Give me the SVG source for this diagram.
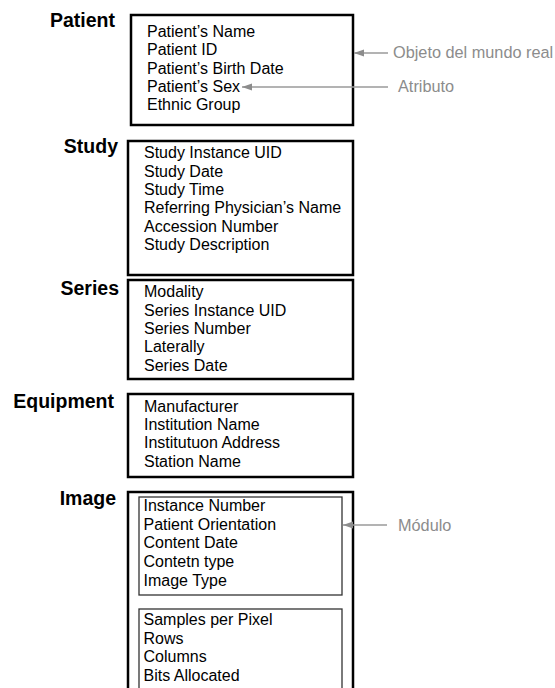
<svg xmlns="http://www.w3.org/2000/svg" width="555" height="688" viewBox="0 0 555 688">
<defs>
<style>
.lbl{font-family:"Liberation Sans",Arial,sans-serif;font-weight:bold;font-size:19.5px;fill:#000;text-anchor:end}
.it{font-family:"Liberation Sans",Arial,sans-serif;font-size:16px;fill:#000}
.note{font-family:"Liberation Sans",Arial,sans-serif;font-size:16.3px;fill:#8c8c8c}
.box{fill:#fff;stroke:#000;stroke-width:2.5}
.inner{fill:#fff;stroke:#333;stroke-width:1.3}
.conn{stroke:#9a9a9a;stroke-width:1.5;fill:none;marker-end:url(#ah)}
</style>
<marker id="ah" markerUnits="userSpaceOnUse" markerWidth="11" markerHeight="8" refX="10" refY="3.5" orient="auto">
<path d="M0,0 L10,3.5 L0,7 z" fill="#8c8c8c"/>
</marker>
</defs>
<rect width="555" height="688" fill="#fff"/>
<g id="patient">
<text class="lbl" x="115" y="27">Patient</text>
<rect class="box" x="131" y="15" width="222" height="110"/>
<text class="it" x="147" y="37">Patient’s Name</text>
<text class="it" x="147" y="55.3">Patient ID</text>
<text class="it" x="147" y="73.6">Patient’s Birth Date</text>
<text class="it" x="147" y="92">Patient’s Sex</text>
<text class="it" x="147" y="110.3">Ethnic Group</text>
</g>
<g id="study">
<text class="lbl" x="118" y="153">Study</text>
<rect class="box" x="128" y="141" width="225" height="134"/>
<text class="it" x="144" y="158.3">Study Instance UID</text>
<text class="it" x="144" y="176.7">Study Date</text>
<text class="it" x="144" y="195">Study Time</text>
<text class="it" x="144" y="213.3">Referring Physician’s Name</text>
<text class="it" x="144" y="231.7">Accession Number</text>
<text class="it" x="144" y="250">Study Description</text>
</g>
<g id="series">
<text class="lbl" x="119" y="295">Series</text>
<rect class="box" x="128" y="280" width="225" height="99"/>
<text class="it" x="144" y="297.3">Modality</text>
<text class="it" x="144" y="315.7">Series Instance UID</text>
<text class="it" x="144" y="334">Series Number</text>
<text class="it" x="144" y="352.3">Laterally</text>
<text class="it" x="144" y="370.7">Series Date</text>
</g>
<g id="equipment">
<text class="lbl" x="114" y="408">Equipment</text>
<rect class="box" x="128" y="394" width="225" height="83"/>
<text class="it" x="144" y="411.7">Manufacturer</text>
<text class="it" x="144" y="430">Institution Name</text>
<text class="it" x="144" y="448.3">Institutuon Address</text>
<text class="it" x="144" y="466.7">Station Name</text>
</g>
<g id="image">
<text class="lbl" x="116" y="505">Image</text>
<rect class="box" x="128" y="492" width="225" height="210"/>
<rect class="inner" x="139" y="497" width="203" height="98"/>
<text class="it" x="143.5" y="511">Instance Number</text>
<text class="it" x="143.5" y="529.7">Patient Orientation</text>
<text class="it" x="143.5" y="548.4">Content Date</text>
<text class="it" x="143.5" y="567.1">Contetn type</text>
<text class="it" x="143.5" y="585.8">Image Type</text>
<rect class="inner" x="139" y="609" width="203" height="90"/>
<text class="it" x="143.5" y="625">Samples per Pixel</text>
<text class="it" x="143.5" y="643.7">Rows</text>
<text class="it" x="143.5" y="662.4">Columns</text>
<text class="it" x="143.5" y="681.1">Bits Allocated</text>
</g>
<g id="notes">
<text class="note" x="393" y="58">Objeto del mundo real</text>
<text class="note" x="398" y="92">Atributo</text>
<text class="note" x="398" y="530.5">Módulo</text>
</g>
<g id="connectors">
<line class="conn" x1="388" y1="53" x2="354" y2="53"/>
<line class="conn" x1="388" y1="87" x2="242" y2="87"/>
<line class="conn" x1="387" y1="525" x2="343" y2="525"/>
</g>
</svg>
